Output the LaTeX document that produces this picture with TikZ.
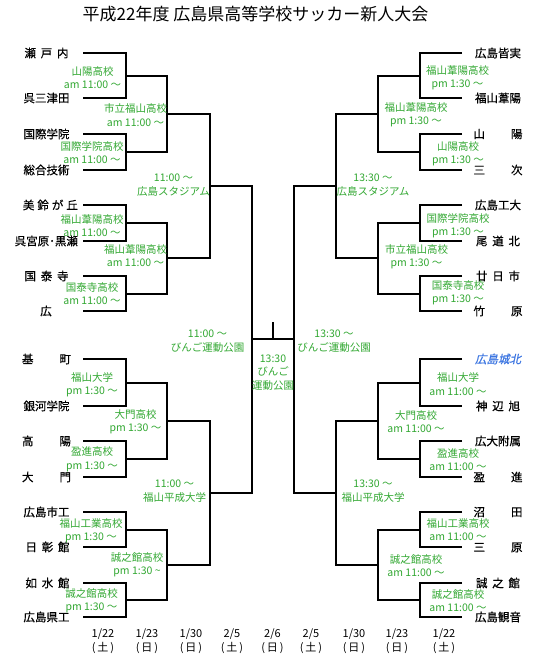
\documentclass[tikz,border=0pt]{standalone}
\usepackage{fontspec}
\setmainfont{Noto Sans CJK JP}
\newfontfamily\jpslant[FakeSlant=0.22,FakeBold=0.5]{Noto Sans CJK JP}
\newfontfamily\jpbold[FakeBold=0.5]{Noto Sans CJK JP}
\definecolor{grn}{RGB}{50,168,50}
\definecolor{blu}{RGB}{60,118,226}
\newcommand{\spr}[2]{\makebox[#1pt][s]{#2}}
\begin{document}
\begin{tikzpicture}[x=1pt,y=-1pt,
  bline/.style={line width=2pt},
  nm/.style={inner sep=0pt,font=\jpbold\fontsize{11.5}{13}\selectfont},
  lab/.style={inner sep=0pt,text=grn,align=center,font=\fontsize{10.5}{13.3}\selectfont},
  dt/.style={inner sep=0pt,align=center,font=\fontsize{11}{14.5}\selectfont}]
\useasboundingbox (0,0) rectangle (540,664);
\fill[white] (0,0) rectangle (540,664);
\node[inner sep=0pt,font=\fontsize{17}{19}\selectfont] (title) at (255.5,14) {平成22年度 広島県高等学校サッカー新人大会};
% ---------- leaf coordinates ----------
\foreach \i/\y in {1/53,2/98,3/134,4/170,5/205,6/241,7/276,8/311,9/359,10/406,11/441,12/477,13/512,14/547,15/583,16/617}
  {\coordinate (a\i) at (83,\y); \coordinate (b\i) at (462,\y);}
% ---------- left names ----------
\node[nm] (t1) at (46.5,53) {\spr{44}{瀬\hfill 戸\hfill 内}};
\node[nm] (t2) at (46.5,98) {呉三津田};
\node[nm] (t3) at (46.5,134) {国際学院};
\node[nm] (t4) at (46.5,170) {総合技術};
\node[nm] (t5) at (50.4,205) {\spr{55}{美\hfill 鈴\hfill が\hfill 丘}};
\node[nm] (t6) at (46.3,241) {呉宮原･黒瀬};
\node[nm] (t7) at (46.5,276) {\spr{44}{国\hfill 泰\hfill 寺}};
\node[nm] (t8) at (46,311) {広};
\node[nm] (t9) at (46.5,359) {\spr{49}{基\hfill 町}};
\node[nm] (t10) at (46.5,406) {銀河学院};
\node[nm] (t11) at (46.5,441) {\spr{49}{高\hfill 陽}};
\node[nm] (t12) at (46.5,477) {\spr{49}{大\hfill 門}};
\node[nm] (t13) at (46.5,512) {広島市工};
\node[nm] (t14) at (47.5,547) {\spr{44}{日\hfill 彰\hfill 館}};
\node[nm] (t15) at (47.5,583) {\spr{44}{如\hfill 水\hfill 館}};
\node[nm] (t16) at (46.5,617) {広島県工};
% ---------- right names ----------
\node[nm] (u1) at (498,53) {広島皆実};
\node[nm] (u2) at (498,98) {福山葦陽};
\node[nm] (u3) at (498,134) {\spr{49}{山\hfill 陽}};
\node[nm] (u4) at (498,170) {\spr{49}{三\hfill 次}};
\node[nm] (u5) at (498,205) {広島工大};
\node[nm] (u6) at (498,241) {\spr{44}{尾\hfill 道\hfill 北}};
\node[nm] (u7) at (498,276) {\spr{44}{廿\hfill 日\hfill 市}};
\node[nm] (u8) at (498,311) {\spr{49}{竹\hfill 原}};
\node[nm,text=blu,font=\jpslant\fontsize{11.5}{13}\selectfont] (u9) at (498,359) {広島城北};
\node[nm] (u10) at (498,406) {\spr{44}{神\hfill 辺\hfill 旭}};
\node[nm] (u11) at (498,441) {広大附属};
\node[nm] (u12) at (498,477) {\spr{49}{盈\hfill 進}};
\node[nm] (u13) at (498,512) {\spr{49}{沼\hfill 田}};
\node[nm] (u14) at (498,547.5) {\spr{49}{三\hfill 原}};
\node[nm] (u15) at (498,583) {\spr{44}{誠\hfill 之\hfill 館}};
\node[nm] (u16) at (498,617) {広島観音};
% ---------- junctions ----------
\foreach \i/\y in {1/75.5,2/152,3/223,4/293.5,5/382.5,6/459,7/529.5,8/600}
  {\coordinate (la\i) at (126,\y); \coordinate (ra\i) at (420,\y);}
\foreach \i/\y in {1/113.75,2/258.25,3/420.75,4/564.75}
  {\coordinate (lb\i) at (167,\y); \coordinate (rb\i) at (378,\y);}
\foreach \i/\y in {1/186,2/492.75}
  {\coordinate (lc\i) at (210,\y); \coordinate (rc\i) at (336,\y);}
\coordinate (ld) at (252,339.4);
\coordinate (rd) at (294,339.4);
\coordinate (fc) at (273,339.4);
\coordinate (fin) at (273,322);
% ---------- bracket lines ----------
\foreach \k in {1,...,8}{
  \pgfmathtruncatemacro{\p}{2*\k-1}\pgfmathtruncatemacro{\q}{2*\k}
  \draw[bline] (a\p) -| (la\k) |- (a\q);
  \draw[bline] (b\p) -| (ra\k) |- (b\q);}
\foreach \k in {1,...,4}{
  \pgfmathtruncatemacro{\p}{2*\k-1}\pgfmathtruncatemacro{\q}{2*\k}
  \draw[bline] (la\p) -| (lb\k) |- (la\q);
  \draw[bline] (ra\p) -| (rb\k) |- (ra\q);}
\foreach \k in {1,2}{
  \pgfmathtruncatemacro{\p}{2*\k-1}\pgfmathtruncatemacro{\q}{2*\k}
  \draw[bline] (lb\p) -| (lc\k) |- (lb\q);
  \draw[bline] (rb\p) -| (rc\k) |- (rb\q);}
\draw[bline] (lc1) -| (ld) |- (lc2);
\draw[bline] (rc1) -| (rd) |- (rc2);
\draw[bline] (ld) -- (rd);
\draw[bline] (fc) -- (fin);
% ---------- green labels left ----------
\node[lab] (g1) at (92.5,77.5) {山陽高校\\am 11:00 〜};
\node[lab] (g2) at (92,152.5) {国際学院高校\\am 11:00 〜};
\node[lab] (g3) at (92,225.8) {福山葦陽高校\\am 11:00 〜};
\node[lab] (g4) at (92,293.3) {国泰寺高校\\am 11:00 〜};
\node[lab] (g5) at (92,385) {福山大学\\pm 1:30 〜};
\node[lab] (g6) at (92,459.2) {盈進高校\\pm 1:30 〜};
\node[lab] (g7) at (91,531) {福山工業高校\\pm 1:30 〜};
\node[lab] (g8) at (91.5,600.5) {誠之館高校\\pm 1:30 〜};
\node[lab] (g9) at (135.5,115) {市立福山高校\\am 11:00 〜};
\node[lab] (g10) at (135.5,255.8) {福山葦陽高校\\am 11:00 〜};
\node[lab] (g11) at (135.5,421.7) {大門高校\\pm 1:30 〜};
\node[lab] (g12) at (137,564.8) {誠之館高校\\pm 1:30 \textasciitilde};
\node[lab] (g13) at (173.5,185) {11:00 〜\\広島スタジアム};
\node[lab] (g14) at (174.5,491) {11:00 〜\\福山平成大学};
\node[lab] (g15) at (207.5,341) {11:00 〜\\びんご運動公園};
\node[lab] (g16) at (273,372.5) {13:30\\びんご\\運動公園};
% ---------- green labels right ----------
\node[lab] (h15) at (334,341) {13:30 〜\\びんご運動公園};
\node[lab] (h13) at (373,185) {13:30 〜\\広島スタジアム};
\node[lab] (h14) at (373,491) {13:30 〜\\福山平成大学};
\node[lab] (h9) at (416,115) {福山葦陽高校\\pm 1:30 〜};
\node[lab] (h10) at (416.5,256.5) {市立福山高校\\pm 1:30 〜};
\node[lab] (h11) at (416,421.5) {大門高校\\am 11:00 〜};
\node[lab] (h12) at (416,565.5) {誠之館高校\\am 11:00 〜};
\node[lab] (h1) at (457.5,78) {福山葦陽高校\\pm 1:30 〜};
\node[lab] (h2) at (458,154) {山陽高校\\pm 1:30 〜};
\node[lab] (h3) at (458,226) {国際学院高校\\pm 1:30 〜};
\node[lab] (h4) at (458,293) {国泰寺高校\\pm 1:30 〜};
\node[lab] (h5) at (458,384) {福山大学\\am 11:00 〜};
\node[lab] (h6) at (458,459.5) {盈進高校\\am 11:00 〜};
\node[lab] (h7) at (458,529.8) {福山工業高校\\am 11:00 〜};
\node[lab] (h8) at (458,600.5) {誠之館高校\\am 11:00 〜};
% ---------- dates ----------
\node[dt] (d1) at (103,641) {1/22\\(\,土\,)};
\node[dt] (d2) at (147,641) {1/23\\(\,日\,)};
\node[dt] (d3) at (191,641) {1/30\\(\,日\,)};
\node[dt] (d4) at (232,641) {2/5\\(\,土\,)};
\node[dt] (d5) at (272.5,641) {2/6\\(\,日\,)};
\node[dt] (d6) at (311,641) {2/5\\(\,土\,)};
\node[dt] (d7) at (354,641) {1/30\\(\,日\,)};
\node[dt] (d8) at (397,641) {1/23\\(\,日\,)};
\node[dt] (d9) at (444,641) {1/22\\(\,土\,)};
\end{tikzpicture}
\end{document}
